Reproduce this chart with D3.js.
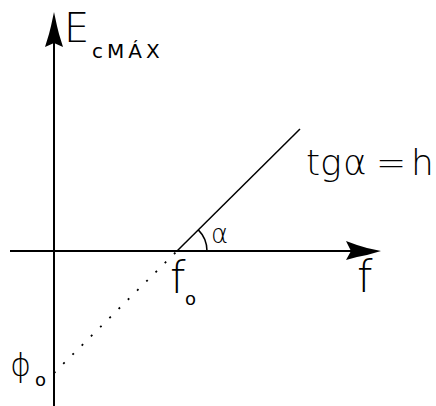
<!DOCTYPE html>
<html>
<head>
<meta charset="utf-8">
<script src="https://cdn.jsdelivr.net/npm/d3@7"></script>
<style>
  html, body { margin: 0; padding: 0; background: #fff; }
  svg { display: block; }
  text { font-family: "DejaVu Sans", sans-serif; font-weight: 200; fill: #000; }
  text.sub { font-weight: 400; }
</style>
</head>
<body>
<svg id="chart" width="436" height="406"></svg>
<script>
// Photoelectric effect: maximum kinetic energy vs. frequency
const workFunction = 5;      // φo (intercept magnitude)
const planck = 1;            // slope h = tg α
const thresholdFreq = workFunction / planck; // fo
const freqEnd = 10;          // end of the drawn solid segment

const xAxisLabel = "f";
const yAxisLabel = ["E", "cMÁX"];
const slopeLabel = ["tg", "α", "=", "h"];

const svg = d3.select("#chart");

const x = d3.scaleLinear().domain([0, 10]).range([54, 300]);
const y = d3.scaleLinear().domain([0, -5]).range([251, 373]);

const E = f => planck * f - workFunction;

// Axes
const yTop = 12, yBottom = 406, xLeft = 10, xRight = 381;
svg.append("line")
  .attr("x1", x(0)).attr("x2", x(0))
  .attr("y1", yTop + 20).attr("y2", yBottom)
  .attr("stroke", "#000").attr("stroke-width", 2);
svg.append("line")
  .attr("x1", xLeft).attr("x2", xRight - 20)
  .attr("y1", y(0)).attr("y2", y(0))
  .attr("stroke", "#000").attr("stroke-width", 2);

// Arrowheads
const ax = x(0);
svg.append("path")
  .attr("d", `M${ax},${yTop} L${ax + 3},${yTop + 14} L${ax + 5},${yTop + 22} L${ax + 9},${yTop + 35} L${ax},${yTop + 31} L${ax - 9},${yTop + 35} L${ax - 5},${yTop + 22} L${ax - 3},${yTop + 14} Z`)
  .attr("fill", "#000");
const ay = y(0);
svg.append("path")
  .attr("d", `M${xRight},${ay} L${xRight - 14},${ay + 4} L${xRight - 24},${ay + 6} L${xRight - 35},${ay + 9} L${xRight - 30},${ay} L${xRight - 35},${ay - 10} L${xRight - 24},${ay - 6} L${xRight - 14},${ay - 3} Z`)
  .attr("fill", "#000");

// Extrapolated (dotted) part of the line, from f = 0 to fo
svg.append("line")
  .attr("x1", x(0)).attr("y1", y(E(0)))
  .attr("x2", x(thresholdFreq)).attr("y2", y(E(thresholdFreq)))
  .attr("stroke", "#000").attr("stroke-width", 1.8)
  .attr("stroke-dasharray", "2,11");

// Physical (solid) part of the line
svg.append("line")
  .attr("x1", x(thresholdFreq)).attr("y1", y(E(thresholdFreq)))
  .attr("x2", x(freqEnd)).attr("y2", y(E(freqEnd)))
  .attr("stroke", "#000").attr("stroke-width", 1.5);

// Angle arc α
const cx = x(thresholdFreq), cy = y(0);
const ang = Math.atan2(y(E(thresholdFreq)) - y(E(freqEnd)), x(freqEnd) - x(thresholdFreq));
const r = 30;
svg.append("path")
  .attr("d", `M${cx + r},${cy} A${r},${r} 0 0 0 ${cx + r * Math.cos(ang)},${cy - r * Math.sin(ang)}`)
  .attr("fill", "none").attr("stroke", "#000").attr("stroke-width", 1.5);
svg.append("text").attr("x", cx + 34).attr("y", cy - 8)
  .attr("font-size", 26).text("α");

// Labels
svg.append("text").attr("x", 64).attr("y", 42).attr("font-size", 40).text(yAxisLabel[0]);
svg.append("text").attr("class", "sub").attr("x", 92).attr("y", 58)
  .attr("font-size", 20).attr("letter-spacing", 4).text(yAxisLabel[1]);

svg.append("text").attr("x", 357).attr("y", 292).attr("font-size", 44).text(xAxisLabel);

svg.append("text").attr("x", 170).attr("y", 293).attr("font-size", 44).text("f");
svg.append("text").attr("class", "sub").attr("x", 185).attr("y", 305).attr("font-size", 18).text("o");

const tg = svg.append("text").attr("y", 175).attr("font-size", 36);
tg.append("tspan").attr("x", 306).text(slopeLabel[0]);
tg.append("tspan").attr("x", 343).text(slopeLabel[1]);
tg.append("tspan").attr("x", 376).text(slopeLabel[2]);
tg.append("tspan").attr("x", 411).text(slopeLabel[3]);

svg.append("text").attr("x", 10).attr("y", 376).attr("font-size", 32).text("ϕ");
svg.append("text").attr("class", "sub").attr("x", 35).attr("y", 386).attr("font-size", 18).text("o");
</script>
</body>
</html>
